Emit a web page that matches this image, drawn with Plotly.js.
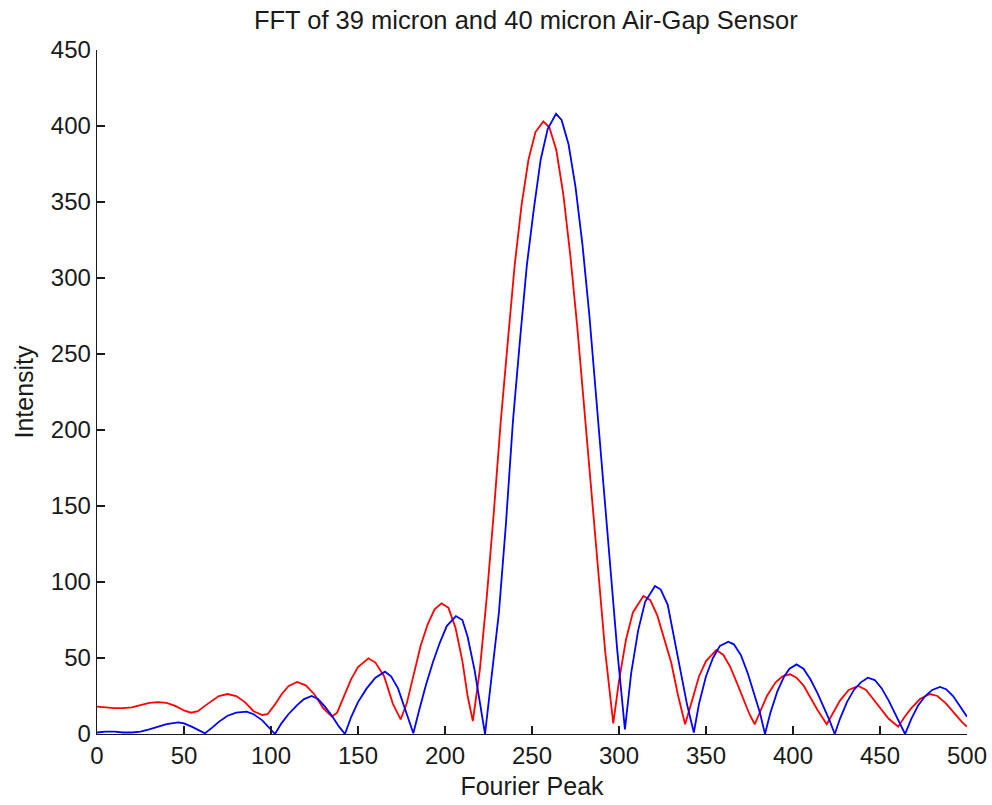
<!DOCTYPE html>
<html>
<head>
<meta charset="utf-8">
<script src="https://cdn.plot.ly/plotly-3.0.1.min.js"></script>
<style>html,body{margin:0;padding:0;background:#fff;}#chart{width:992px;height:805px;}</style>
</head>
<body>
<div id="chart"></div>
<script>
// 39 micron (red)
const redX = [0,5,10,15,20,25,30,35,40,45,50,54,58,62,66,70,75,80,85,90,95,98,102,106,110,115,120,125,130,135,138,142,146,150,156,160,165,170,174.5,178,182,186,190,194,198,202,206,210,213,216,
  220,224,228,232,236,240,244,248,252,256.5,260,264,268,272,276,280,284,288,292,296.7,
  300,304,308,314,318,322,326,330,334,338,342,346,350,356,360,364,368,372,375,378,381,385,390,394,398.3,402,406,410,414,419.4,423,427,432,437.5,442,446,450,455,460.5,464,468,473,478.7,483,488,493,497,500];
const redY = [18,17.5,17,17,17.5,19,20.5,21,20.5,18.5,15.5,14,15,18.5,22,25,26.3,25,21,15,12.5,13,19,26,31.5,34.2,32,26,17,11.5,14,25,36,44,49.8,47,38,20,9.6,20,40,58,72,82,86,83,70,48,25,8.5,
  42,90,145,205,257,308,348,378,396,403,399,384,355,315,268,215,157,105,55,7,
  35,62,80,90.8,88,78,62,47,25,6.4,22,38,48,55.3,52,44,33,22,13,6.4,14,25,34,38,39.3,37,32,24,16,6.4,14,22,29,31.6,29,23,17,10,4.8,11,17,23,26.3,25,20,13,8,4.8];
// 40 micron (blue)
const blueX = [0,5,10,15,20,25,30,35,40,46.7,50,55,59,62,66,70,75,80,86,90,95,99,102.3,106,110,115,119,123.4,127,131,135,139,142.5,146,150,155,160,165.5,169,173,177,181.8,185,189,193,197,201,206.3,210,213,217,220,223,
  227,231,235,239,243,247,251,255,259,263.8,267,271,275,279,283,287,291,295,299,303.4,
  307,311,315,320.7,324,328,332,336,339,343,346,350,354,358,362.8,366,370,374,378,381,383.9,387,391,395,398,402,406,410,414,418,421,424,427,431,435,439,443,447,451,455,459,462,464.4,468,472,476,480,484.5,488,492,496,500];
const blueY = [1,1.5,1.5,1,1,1.5,3,5,6.5,7.7,7,4.5,2,0.4,4,8,12,14,14.7,13,9,4,0,7,13,19,23,25,23,18,12,5,0,11,21,30,37,41,38,30,17,0.5,15,32,47,60,71,77.6,75,64,42,20,0,
  40,80,138,205,258,308,345,378,398,408,404,388,360,322,275,222,165,110,55,3,
  40,68,87,97.4,95,85,62,38,20,1,20,38,50,58,60.7,59,52,40,26,14,0,14,28,38,43,45.8,43,36,27,17,9,0,10,21,29,34,37,35.5,30,22,13,6,0,10,19,25,29,31,29.5,25,18,11.4];
const xTicks = [0,50,100,150,200,250,300,350,400,450,500];
const yTicks = [0,50,100,150,200,250,300,350,400,450];

const FONT = 'Liberation Sans, Arial, Helvetica, sans-serif';
const traces = [
  {x: redX, y: redY, type: 'scatter', mode: 'lines', line: {color: '#ff0000', width: 1.8}, name: '39 micron'},
  {x: blueX, y: blueY, type: 'scatter', mode: 'lines', line: {color: '#0000ff', width: 1.8}, name: '40 micron'}
];
const layout = {
  width: 992, height: 805,
  paper_bgcolor: '#ffffff', plot_bgcolor: '#ffffff',
  showlegend: false,
  margin: {l: 97, r: 25, t: 50, b: 71, pad: 0},
  font: {family: FONT, size: 24, color: '#1a1a1a'},
  title: {text: 'FFT of 39 micron and 40 micron Air-Gap Sensor', font: {family: FONT, size: 25.5, color: '#1a1a1a'},
          x: 0.530, xanchor: 'center', y: 1 - 20/805, yanchor: 'middle', yref: 'container'},
  xaxis: {range: [0, 500], tickvals: xTicks, ticktext: xTicks.map(String), ticks: 'inside', ticklen: 8, tickwidth: 1.3,
          tickcolor: '#1a1a1a', showline: true, linecolor: '#1a1a1a', linewidth: 1.3, showgrid: false, zeroline: false,
          automargin: false, tickfont: {family: FONT, size: 24, color: '#1a1a1a'},
          title: {text: 'Fourier Peak', standoff: 9, font: {family: FONT, size: 25, color: '#1a1a1a'}}},
  yaxis: {range: [0, 450], tickvals: yTicks, ticktext: yTicks.map(String), ticks: 'inside', ticklen: 8, tickwidth: 1.3,
          tickcolor: '#1a1a1a', showline: true, linecolor: '#1a1a1a', linewidth: 1.3, showgrid: false, zeroline: false,
          automargin: false, tickfont: {family: FONT, size: 24, color: '#1a1a1a'},
          title: {text: 'Intensity', standoff: 10, font: {family: FONT, size: 25, color: '#1a1a1a'}}}
};
Plotly.newPlot('chart', traces, layout, {displayModeBar: false, staticPlot: true});
</script>
</body>
</html>
